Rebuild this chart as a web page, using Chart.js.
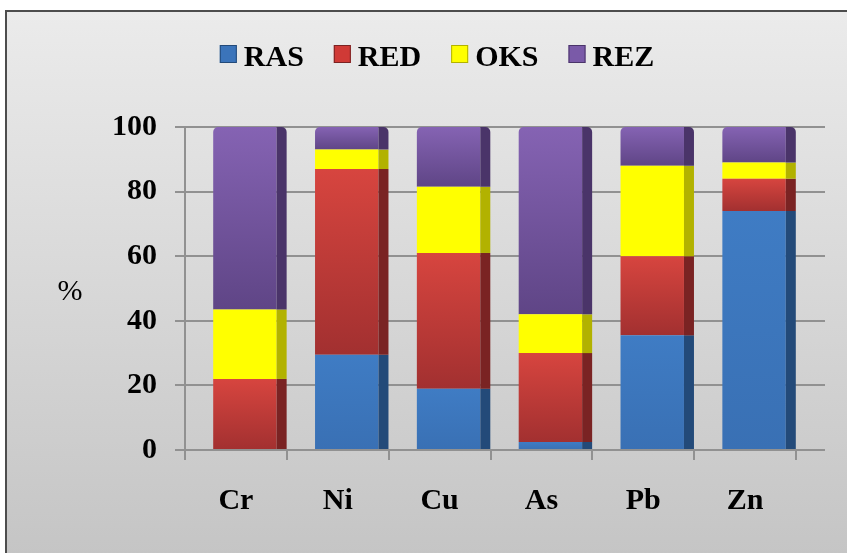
<!DOCTYPE html>
<html>
<head>
<meta charset="utf-8">
<script src="https://cdn.jsdelivr.net/npm/chart.js@4/dist/chart.umd.min.js"></script>
<style>
  html, body { margin: 0; padding: 0; background: #ffffff; }
  #wrap { position: relative; width: 847px; height: 553px; overflow: hidden; }
  #frame {
    position: absolute; left: 5px; top: 10px; width: 870px; height: 570px;
    border: 2px solid #4d4d4d;
    background: linear-gradient(#ebebeb, #c3c3c3);
  }
  #c { position: absolute; left: 0; top: 0; }
</style>
</head>
<body>
<div id="wrap">
  <div id="frame"></div>
  <canvas id="c" width="847" height="553"></canvas>
</div>
<script>
// Share of each fraction (%) per element
const categories = ['Cr', 'Ni', 'Cu', 'As', 'Pb', 'Zn'];
const seriesNames = ['RAS', 'RED', 'OKS', 'REZ'];
const ras = [0, 29.5, 19, 2.5, 35.5, 74];
const red = [22, 57.5, 42, 27.5, 24.5, 10];
const oks = [21.5, 6, 20.5, 12, 28, 5];
const rez = [56.5, 7, 18.5, 58, 12, 11];
const yTicks = [0, 20, 40, 60, 80, 100];
const axisTitle = '%';

const values = [ras, red, oks, rez];

// Face colours: gradient top/bottom for the front, flat colour for the side
const styles = [
  { top: '#3f7cc4', bottom: '#3970b4', side: '#234a79', legend: '#3b74ba' },
  { top: '#d7453f', bottom: '#a23030', side: '#7a2323', legend: '#d03a36' },
  { top: '#ffff00', bottom: '#ffff00', side: '#b2b200', legend: '#ffff00' },
  { top: '#8563b3', bottom: '#5f4586', side: '#4a3469', legend: '#7a5aa8' }
];
const DEPTH = 10;     // width of the shaded side face
const SHIFT = 9;      // perspective offset of the bars
const serif = '"Liberation Serif", "Times New Roman", serif';

function segmentFill(di) {
  return (c) => {
    const st = styles[di];
    if (c.type !== 'data') return st.top;
    const chart = c.chart;
    const y = chart.scales && chart.scales.y;
    if (!y || !chart.chartArea) return st.top;
    const i = c.dataIndex;
    let lo = 0;
    for (let k = 0; k < di; k++) lo += values[k][i];
    const hi = lo + values[di][i];
    const p0 = y.getPixelForValue(hi), p1 = y.getPixelForValue(lo);
    if (!isFinite(p0) || !isFinite(p1) || p1 - p0 < 1) return st.top;
    const g = chart.ctx.createLinearGradient(0, p0, 0, p1);
    g.addColorStop(0, st.top);
    g.addColorStop(1, st.bottom);
    return g;
  };
}

const depthPlugin = {
  id: 'depth',
  beforeDraw(chart) {
    // horizontal grid across the back wall
    const { ctx, chartArea: a, scales: { y } } = chart;
    ctx.save();
    ctx.strokeStyle = '#919191';
    ctx.lineWidth = 2;
    yTicks.forEach(v => {
      const py = Math.round(y.getPixelForValue(v));
      ctx.beginPath();
      ctx.moveTo(a.left - 10, py);
      ctx.lineTo(a.right + 29, py);
      ctx.stroke();
    });
    ctx.restore();
  },
  beforeDatasetsDraw(chart) {
    chart.ctx.save();
    chart.ctx.translate(SHIFT, 0);
  },
  afterDatasetsDraw(chart) {
    const ctx = chart.ctx;
    values.forEach((vals, di) => {
      const meta = chart.getDatasetMeta(di);
      meta.data.forEach(bar => {
        const { x, y, base, width } = bar.getProps(['x', 'y', 'base', 'width'], true);
        const h = base - y;
        if (h < 0.5) return;
        const r = x + width / 2;
        ctx.fillStyle = styles[di].side;
        ctx.beginPath();
        if (di === values.length - 1) {
          const rad = 5;
          ctx.moveTo(r, y);
          ctx.lineTo(r + DEPTH - rad, y);
          ctx.arcTo(r + DEPTH, y, r + DEPTH, y + rad, rad);
          ctx.lineTo(r + DEPTH, base);
          ctx.lineTo(r, base);
        } else {
          ctx.rect(r, y, DEPTH, h);
        }
        ctx.closePath();
        ctx.fill();
      });
    });
    ctx.restore();
  },
  afterDraw(chart) {
    const ctx = chart.ctx;
    ctx.save();
    // legend row
    ctx.font = 'bold 30px ' + serif;
    const box = 17, gapText = 7, gapItem = 30;
    const widths = seriesNames.map(n => ctx.measureText(n).width);
    let total = 0;
    widths.forEach((w, i) => { total += box + gapText + w + (i < widths.length - 1 ? gapItem : 0); });
    let x = 437 - total / 2;
    const boxTop = 45, baseLine = 66;
    seriesNames.forEach((n, i) => {
      ctx.fillStyle = styles[i].legend;
      ctx.fillRect(x, boxTop, box, box + 1);
      ctx.strokeStyle = styles[i].side;
      ctx.lineWidth = 1;
      ctx.strokeRect(x + 0.5, boxTop + 0.5, box - 1, box);
      ctx.fillStyle = '#000';
      ctx.textAlign = 'left';
      ctx.textBaseline = 'alphabetic';
      ctx.fillText(n, x + box + gapText, baseLine);
      x += box + gapText + widths[i] + gapItem;
    });
    // axis title
    ctx.font = '30px ' + serif;
    ctx.textAlign = 'center';
    ctx.textBaseline = 'middle';
    ctx.fillStyle = '#000';
    ctx.fillText(axisTitle, 70, 292);
    ctx.restore();
  }
};

const datasets = values.map((vals, di) => ({
  label: seriesNames[di],
  data: vals,
  backgroundColor: segmentFill(di),
  borderWidth: 0,
  borderSkipped: false,
  borderRadius: di === values.length - 1 ? { topLeft: 5, topRight: 0, bottomLeft: 0, bottomRight: 0 } : 0,
  barPercentage: 0.623,
  categoryPercentage: 1
}));

new Chart(document.getElementById('c'), {
  type: 'bar',
  data: { labels: categories, datasets },
  options: {
    responsive: false,
    animation: false,
    layout: { padding: { left: 78, right: 51, top: 127, bottom: 0 } },
    plugins: { legend: { display: false }, tooltip: { enabled: false } },
    scales: {
      x: {
        stacked: true,
        afterFit(scale) { scale.height = 103; },
        grid: { offset: true, drawOnChartArea: false, drawTicks: true, tickLength: 10, color: '#919191', lineWidth: 2 },
        border: { display: true, color: '#919191', width: 2 },
        ticks: { color: '#000', padding: 23, font: { family: serif, size: 30, weight: 'bold' } }
      },
      y: {
        stacked: true,
        min: 0, max: 100,
        afterFit(scale) { scale.width = 107; },
        afterBuildTicks(scale) { scale.ticks = yTicks.map(v => ({ value: v })); },
        grid: { drawOnChartArea: false, drawTicks: true, tickLength: 10, color: '#919191', lineWidth: 2 },
        border: { display: true, color: '#919191', width: 2 },
        ticks: { color: '#000', padding: 18, font: { family: serif, size: 30, weight: 'bold' } }
      }
    }
  },
  plugins: [depthPlugin]
});
</script>
</body>
</html>
